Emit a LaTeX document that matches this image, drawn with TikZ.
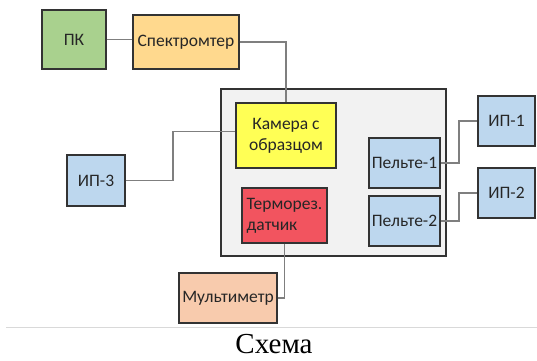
\documentclass[tikz,border=0pt]{standalone}
\usepackage{fontspec}
\setmainfont{Carlito}
\newfontfamily\captionfont{Liberation Serif}
\usetikzlibrary{calc}
\definecolor{boxline}{HTML}{333333}
\definecolor{wire}{HTML}{7F7F7F}
\definecolor{pcgreen}{HTML}{A9D18E}
\definecolor{specorange}{HTML}{FFD98E}
\definecolor{camyellow}{HTML}{FFFF55}
\definecolor{thermored}{HTML}{F2545F}
\definecolor{psblue}{HTML}{BDD7EE}
\definecolor{meterpeach}{HTML}{F8CBAD}
\definecolor{housing}{HTML}{F2F2F2}
\definecolor{labeltext}{HTML}{262626}
\tikzset{
  block/.style={draw=boxline, line width=1.4pt, font=\fontsize{17.5}{21}\selectfont,
    text=labeltext, inner sep=2pt, align=center},
  wireline/.style={draw=wire, line width=1.8pt},
}
\begin{document}
\begin{tikzpicture}[x=1pt, y=-1pt]
\useasboundingbox[fill=white] (0,0) rectangle (537,360);

% stand housing
\node[block, fill=housing, minimum width=225pt, minimum height=167pt] (stand) at (333.5,172.5) {};

% devices
\node[block, fill=pcgreen, minimum width=64pt, minimum height=59pt] (pc) at (74,39.5) {ПК};
\node[block, fill=specorange, minimum width=106pt, minimum height=54pt] (spec) at (186,42) {Спектромтер};
\node[block, fill=camyellow, minimum width=100pt, minimum height=65pt] (cam) at (286,135.5) {Камера с\\образцом};
\node[block, fill=psblue, minimum width=71pt, minimum height=50pt] (pelt1) at (404.5,163) {Пельте-1};
\node[block, fill=psblue, minimum width=71pt, minimum height=50pt] (pelt2) at (404.5,221) {Пельте-2};
\node[block, fill=psblue, minimum width=57pt, minimum height=50pt] (ip1) at (506.5,121) {ИП-1};
\node[block, fill=psblue, minimum width=57pt, minimum height=50pt] (ip2) at (506.5,193) {ИП-2};
\node[block, fill=psblue, minimum width=58pt, minimum height=51pt] (ip3) at (96,180.5) {ИП-3};
\node[block, fill=thermored, minimum width=85pt, minimum height=55pt, align=left] (therm) at (284.5,215.5) {Терморез.\\датчик};
\node[block, fill=meterpeach, minimum width=98pt, minimum height=50pt] (meter) at (228,298) {Мультиметр};

% wiring
\draw[wireline] (pc.east) -- (pc.east -| spec.west);
\draw[wireline] (spec.east) -| (cam.north);
\draw[wireline] (pelt1.east) -- ++(18,0) |- (ip1.west);
\draw[wireline] (pelt2.east) -- ++(18,0) |- (ip2.west);
\draw[wireline] (ip3.east) -- ++(47,0) |- ($(cam.west)+(0,-4)$);
\draw[wireline] (therm.south) |- (meter.east);

% caption
\draw[draw=black!15, line width=0.8pt] (6,327) -- (537,327);
\node[font=\captionfont\fontsize{29}{32}\selectfont, inner sep=0pt, anchor=base] (caption) at (274,353) {Схема};
\end{tikzpicture}
\end{document}
